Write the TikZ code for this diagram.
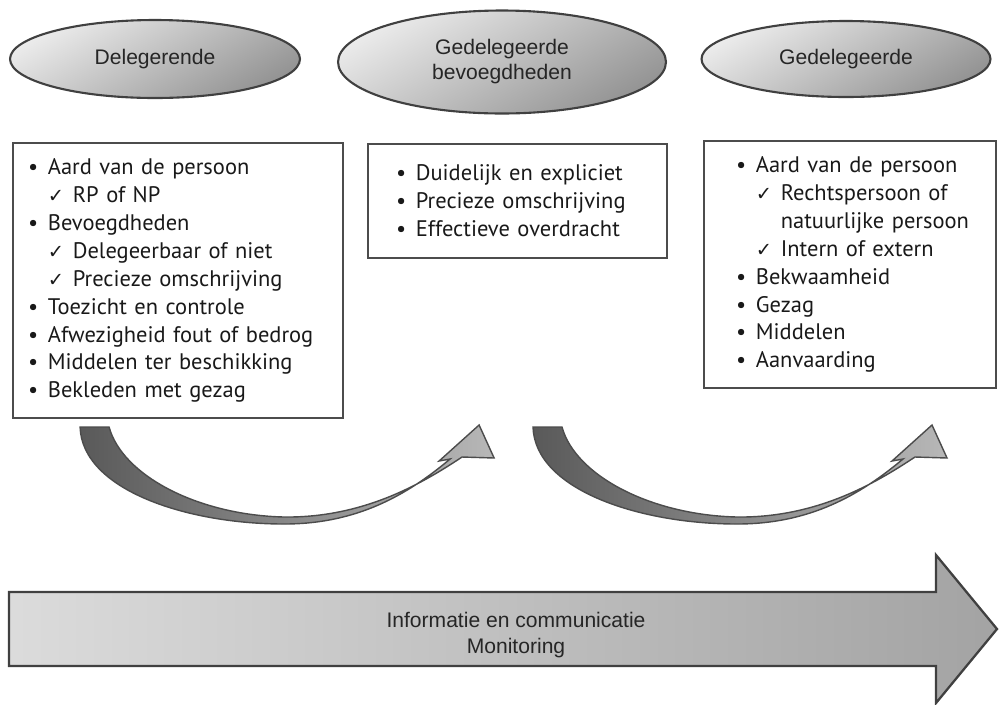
\documentclass[tikz,border=0pt]{standalone}
\usepackage{fontspec}
\setmainfont{PT Sans}
\newfontfamily\arialfont{Liberation Sans}
\newfontfamily\checkfont{DejaVu Sans}
\usetikzlibrary{shapes.geometric}

% list lines
\newcommand{\itm}[1]{\mbox{\makebox[11.3pt][l]{\textbullet}#1}}
\newcommand{\chk}[1]{\mbox{\hspace{11.3pt}\makebox[14.2pt][l]{\checkfont\fontsize{11}{11}\selectfont ✓}#1}}
\newcommand{\cont}[1]{\mbox{\hspace{25.5pt}#1}}

\tikzset{
  role/.style={ellipse, draw=black!75, line width=1.2pt, top color=black!8, bottom color=black!42,
    shading angle=30, inner sep=0pt, align=center, text=black!85,
    font=\arialfont\fontsize{12}{14.2}\selectfont},
  listbox/.style={draw=black!70, line width=1.2pt, anchor=north west, align=left,
    inner ysep=0pt, text=black!90, font=\fontsize{12.8}{15.9}\selectfont},
  swoosh/.style={draw=black!70, line width=0.8pt, left color=black!65, right color=black!28},
  band/.style={draw=black!75, line width=1.3pt, left color=black!14, right color=black!36},
}

\begin{document}
\begin{tikzpicture}[x=0.02cm, y=-0.02cm]
  \useasboundingbox (0,0) rectangle (999,704);

  % the three parties
  \node[role, minimum width=5.8cm, minimum height=1.56cm] (deleg) at (155,59) {Delegerende};
  \node[role, minimum width=6.56cm, minimum height=2.06cm] (bevoeg) at (502,62) {Gedelegeerde\\bevoegdheden};
  \node[role, minimum width=5.78cm, minimum height=1.52cm] (gedeleg) at (846,59) {Gedelegeerde};

  % conditions
  \node[listbox, text width=6cm, inner xsep=0.3cm, minimum height=5.5cm] (delegbox) at (12,142) {
    \itm{Aard van de persoon}\\
    \chk{RP of NP}\\
    \itm{Bevoegdheden}\\
    \chk{Delegeerbaar of niet}\\
    \chk{Precieze omschrijving}\\
    \itm{Toezicht en controle}\\
    \itm{Afwezigheid fout of bedrog}\\
    \itm{Middelen ter beschikking}\\
    \itm{Bekleden met gezag}};
  \node[listbox, text width=4.86cm, inner xsep=0.56cm, minimum height=2.28cm] (bevoegbox) at (367,143) {
    \itm{Duidelijk en expliciet}\\
    \itm{Precieze omschrijving}\\
    \itm{Effectieve overdracht}};
  \node[listbox, text width=4.56cm, inner xsep=0.64cm, minimum height=4.94cm] (gedelegbox) at (703,140) {
    \itm{Aard van de persoon}\\
    \chk{Rechtspersoon of}\\
    \cont{natuurlijke persoon}\\
    \chk{Intern of extern}\\
    \itm{Bekwaamheid}\\
    \itm{Gezag}\\
    \itm{Middelen}\\
    \itm{Aanvaarding}};

  % curved arrows
  \foreach \s in {-9.06cm, 0cm} {
    \begin{scope}[xshift=\s]
      \draw[swoosh] (533,427) -- (562,427)
        .. controls (575,475) and (650,515) .. (737,517)
        .. controls (820,518) and (880,480) .. (915,457)
        -- (947,458) -- (932,425) -- (892,461) -- (903,459)
        .. controls (860,495) and (810,524) .. (737,524)
        .. controls (640,524) and (535,490) .. (533,427) -- cycle;
    \end{scope}
  }

  % bottom band
  \draw[band] (9,592) -- (936,592) -- (936,555) -- (997,629) -- (936,703)
    -- (936,666) -- (9,666) -- cycle;
  \node[font=\arialfont\fontsize{12}{14.7}\selectfont, text=black!85, align=center] (info) at (516,635)
    {Informatie en communicatie\\Monitoring};
\end{tikzpicture}
\end{document}
